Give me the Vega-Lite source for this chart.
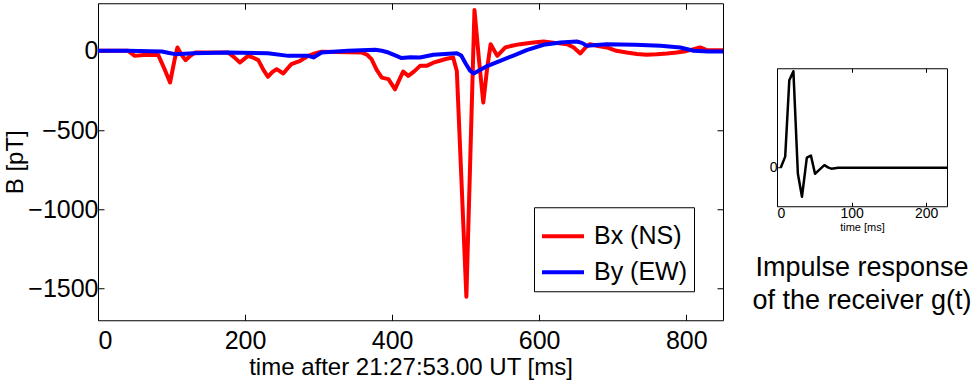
{
  "$schema": "https://vega.github.io/schema/vega-lite/v6.json",
  "padding": {"left": 3, "top": 2, "right": 0, "bottom": 0},
  "background": "white",
  "spacing": 25,
  "center": true,
  "resolve": {"legend": {"color": "independent"}},
  "config": {
    "view": {"stroke": "black", "strokeWidth": 1},
    "font": "Liberation Sans",
    "axis": {
      "grid": false,
      "domain": false,
      "tickColor": "black",
      "labelColor": "black",
      "titleColor": "black",
      "titleFontWeight": "normal",
      "labelFont": "Liberation Sans",
      "titleFont": "Liberation Sans"
    }
  },
  "datasets": {
    "b": [
      {"t": 0, "v": 0, "series": "Bx (NS)"},
      {"t": 20, "v": 0, "series": "Bx (NS)"},
      {"t": 41, "v": 0, "series": "Bx (NS)"},
      {"t": 50, "v": -32, "series": "Bx (NS)"},
      {"t": 65, "v": -25, "series": "Bx (NS)"},
      {"t": 82, "v": -27, "series": "Bx (NS)"},
      {"t": 90, "v": -110, "series": "Bx (NS)"},
      {"t": 98, "v": -200, "series": "Bx (NS)"},
      {"t": 104, "v": -60, "series": "Bx (NS)"},
      {"t": 108, "v": 21, "series": "Bx (NS)"},
      {"t": 113, "v": -20, "series": "Bx (NS)"},
      {"t": 119, "v": -59, "series": "Bx (NS)"},
      {"t": 126, "v": -30, "series": "Bx (NS)"},
      {"t": 132, "v": -11, "series": "Bx (NS)"},
      {"t": 177, "v": -11, "series": "Bx (NS)"},
      {"t": 185, "v": -40, "series": "Bx (NS)"},
      {"t": 193, "v": -74, "series": "Bx (NS)"},
      {"t": 204, "v": -32, "series": "Bx (NS)"},
      {"t": 212, "v": -45, "series": "Bx (NS)"},
      {"t": 218, "v": -59, "series": "Bx (NS)"},
      {"t": 225, "v": -120, "series": "Bx (NS)"},
      {"t": 231, "v": -164, "series": "Bx (NS)"},
      {"t": 237, "v": -135, "series": "Bx (NS)"},
      {"t": 243, "v": -116, "series": "Bx (NS)"},
      {"t": 252, "v": -143, "series": "Bx (NS)"},
      {"t": 258, "v": -110, "series": "Bx (NS)"},
      {"t": 263, "v": -84, "series": "Bx (NS)"},
      {"t": 275, "v": -63, "series": "Bx (NS)"},
      {"t": 286, "v": -32, "series": "Bx (NS)"},
      {"t": 295, "v": -17, "series": "Bx (NS)"},
      {"t": 304, "v": -6, "series": "Bx (NS)"},
      {"t": 359, "v": -11, "series": "Bx (NS)"},
      {"t": 366, "v": -25, "series": "Bx (NS)"},
      {"t": 372, "v": -53, "series": "Bx (NS)"},
      {"t": 379, "v": -120, "series": "Bx (NS)"},
      {"t": 386, "v": -169, "series": "Bx (NS)"},
      {"t": 395, "v": -179, "series": "Bx (NS)"},
      {"t": 404, "v": -243, "series": "Bx (NS)"},
      {"t": 410, "v": -180, "series": "Bx (NS)"},
      {"t": 415, "v": -131, "series": "Bx (NS)"},
      {"t": 422, "v": -158, "series": "Bx (NS)"},
      {"t": 430, "v": -130, "series": "Bx (NS)"},
      {"t": 438, "v": -95, "series": "Bx (NS)"},
      {"t": 447, "v": -95, "series": "Bx (NS)"},
      {"t": 456, "v": -75, "series": "Bx (NS)"},
      {"t": 465, "v": -63, "series": "Bx (NS)"},
      {"t": 474, "v": -50, "series": "Bx (NS)"},
      {"t": 483, "v": -42, "series": "Bx (NS)"},
      {"t": 488, "v": -127, "series": "Bx (NS)"},
      {"t": 501, "v": -1551, "series": "Bx (NS)"},
      {"t": 512, "v": 258, "series": "Bx (NS)"},
      {"t": 518, "v": -50, "series": "Bx (NS)"},
      {"t": 524, "v": -327, "series": "Bx (NS)"},
      {"t": 529, "v": -120, "series": "Bx (NS)"},
      {"t": 534, "v": 42, "series": "Bx (NS)"},
      {"t": 543, "v": -32, "series": "Bx (NS)"},
      {"t": 554, "v": 21, "series": "Bx (NS)"},
      {"t": 563, "v": 32, "series": "Bx (NS)"},
      {"t": 574, "v": 42, "series": "Bx (NS)"},
      {"t": 592, "v": 53, "series": "Bx (NS)"},
      {"t": 606, "v": 59, "series": "Bx (NS)"},
      {"t": 622, "v": 50, "series": "Bx (NS)"},
      {"t": 638, "v": 42, "series": "Bx (NS)"},
      {"t": 647, "v": 21, "series": "Bx (NS)"},
      {"t": 656, "v": -17, "series": "Bx (NS)"},
      {"t": 663, "v": 21, "series": "Bx (NS)"},
      {"t": 669, "v": 42, "series": "Bx (NS)"},
      {"t": 680, "v": 30, "series": "Bx (NS)"},
      {"t": 692, "v": 21, "series": "Bx (NS)"},
      {"t": 705, "v": 0, "series": "Bx (NS)"},
      {"t": 719, "v": -11, "series": "Bx (NS)"},
      {"t": 733, "v": -20, "series": "Bx (NS)"},
      {"t": 746, "v": -25, "series": "Bx (NS)"},
      {"t": 760, "v": -22, "series": "Bx (NS)"},
      {"t": 774, "v": -17, "series": "Bx (NS)"},
      {"t": 787, "v": -11, "series": "Bx (NS)"},
      {"t": 797, "v": -5, "series": "Bx (NS)"},
      {"t": 805, "v": 4, "series": "Bx (NS)"},
      {"t": 819, "v": 21, "series": "Bx (NS)"},
      {"t": 828, "v": 4, "series": "Bx (NS)"},
      {"t": 840, "v": 4, "series": "Bx (NS)"},
      {"t": 850, "v": 4, "series": "Bx (NS)"},
      {"t": 0, "v": 0, "series": "By (EW)"},
      {"t": 40, "v": 0, "series": "By (EW)"},
      {"t": 87, "v": -4, "series": "By (EW)"},
      {"t": 95, "v": -12, "series": "By (EW)"},
      {"t": 105, "v": -21, "series": "By (EW)"},
      {"t": 130, "v": -15, "series": "By (EW)"},
      {"t": 177, "v": -11, "series": "By (EW)"},
      {"t": 231, "v": -15, "series": "By (EW)"},
      {"t": 259, "v": -32, "series": "By (EW)"},
      {"t": 286, "v": -32, "series": "By (EW)"},
      {"t": 293, "v": -42, "series": "By (EW)"},
      {"t": 304, "v": -11, "series": "By (EW)"},
      {"t": 340, "v": 0, "series": "By (EW)"},
      {"t": 377, "v": 6, "series": "By (EW)"},
      {"t": 386, "v": 0, "series": "By (EW)"},
      {"t": 395, "v": -11, "series": "By (EW)"},
      {"t": 405, "v": -30, "series": "By (EW)"},
      {"t": 413, "v": -46, "series": "By (EW)"},
      {"t": 425, "v": -40, "series": "By (EW)"},
      {"t": 438, "v": -42, "series": "By (EW)"},
      {"t": 456, "v": -25, "series": "By (EW)"},
      {"t": 488, "v": -15, "series": "By (EW)"},
      {"t": 494, "v": -30, "series": "By (EW)"},
      {"t": 500, "v": -80, "series": "By (EW)"},
      {"t": 506, "v": -125, "series": "By (EW)"},
      {"t": 511, "v": -143, "series": "By (EW)"},
      {"t": 520, "v": -120, "series": "By (EW)"},
      {"t": 530, "v": -95, "series": "By (EW)"},
      {"t": 547, "v": -63, "series": "By (EW)"},
      {"t": 565, "v": -30, "series": "By (EW)"},
      {"t": 583, "v": 4, "series": "By (EW)"},
      {"t": 606, "v": 38, "series": "By (EW)"},
      {"t": 629, "v": 53, "series": "By (EW)"},
      {"t": 651, "v": 59, "series": "By (EW)"},
      {"t": 658, "v": 50, "series": "By (EW)"},
      {"t": 665, "v": 32, "series": "By (EW)"},
      {"t": 692, "v": 42, "series": "By (EW)"},
      {"t": 730, "v": 38, "series": "By (EW)"},
      {"t": 765, "v": 32, "series": "By (EW)"},
      {"t": 792, "v": 21, "series": "By (EW)"},
      {"t": 810, "v": 0, "series": "By (EW)"},
      {"t": 830, "v": -4, "series": "By (EW)"},
      {"t": 850, "v": -4, "series": "By (EW)"}
    ],
    "g": [
      {"t": 5, "v": 0},
      {"t": 11, "v": 11},
      {"t": 16.5, "v": 87},
      {"t": 22, "v": 96},
      {"t": 28, "v": -6},
      {"t": 33.5, "v": -29},
      {"t": 40, "v": 10},
      {"t": 45.5, "v": 12},
      {"t": 51, "v": -6},
      {"t": 57, "v": -2},
      {"t": 63.5, "v": 2.5},
      {"t": 69, "v": 0},
      {"t": 73, "v": -1},
      {"t": 82, "v": 0},
      {"t": 120, "v": 0},
      {"t": 228, "v": 0}
    ]
  },
  "hconcat": [
    {
      "width": 625,
      "height": 317,
      "data": {"name": "b"},
      "layer": [
        {
          "mark": {"type": "line", "strokeOpacity": 0},
          "encoding": {
            "x": {"field": "t", "type": "quantitative", "scale": {"domain": [0, 850], "nice": false},
              "axis": {"orient": "top", "labels": false, "title": null, "tickSize": -6, "values": [0, 200, 400, 600, 800]}},
            "y": {"field": "v", "type": "quantitative", "scale": {"domain": [-1700, 300], "nice": false, "zero": false},
              "axis": {"orient": "right", "labels": false, "title": null, "tickSize": -6, "values": [-1500, -1000, -500, 0]}},
            "detail": {"field": "series", "type": "nominal"}
          }
        },
        {
          "mark": {"type": "line", "strokeWidth": 4, "strokeJoin": "round"},
          "encoding": {
            "x": {"field": "t", "type": "quantitative",
              "axis": {"orient": "bottom", "title": "time after 21:27:53.00 UT [ms]", "titleFontSize": 24, "labelFontSize": 25, "tickSize": -6, "labelPadding": 14, "titlePadding": 2, "values": [0, 200, 400, 600, 800], "format": "d"}},
            "y": {"field": "v", "type": "quantitative",
              "axis": {"orient": "left", "title": "B [pT]", "titleFontSize": 24, "labelFontSize": 25, "tickSize": -6, "labelPadding": 6, "titlePadding": 0, "values": [-1500, -1000, -500, 0], "format": "d"}},
            "color": {"field": "series", "type": "nominal",
              "scale": {"domain": ["Bx (NS)", "By (EW)"], "range": ["#ff0000", "#0000ff"]},
              "legend": {"title": null, "orient": "bottom-right", "offset": 29, "symbolType": "stroke", "symbolStrokeWidth": 4, "symbolSize": 1764, "labelFontSize": 25, "labelFont": "Liberation Sans", "labelColor": "black", "strokeColor": "black", "fillColor": "white", "padding": 6, "rowPadding": -6, "labelOffset": 8, "cornerRadius": 0, "labelLimit": 300}}
          }
        }
      ],
      "resolve": {"axis": {"x": "independent", "y": "independent"}}
    },
    {
      "width": 170,
      "height": 138,
      "data": {"name": "g"},
      "title": {"text": ["Impulse response", "of the receiver g(t)"], "orient": "bottom", "anchor": "middle", "fontSize": 27, "fontWeight": "normal", "font": "Liberation Sans", "color": "black", "offset": 23, "lineHeight": 33},
      "layer": [
        {
          "mark": {"type": "line", "strokeOpacity": 0},
          "encoding": {
            "x": {"field": "t", "type": "quantitative", "scale": {"domain": [0, 228], "nice": false},
              "axis": {"orient": "top", "labels": false, "title": null, "tickSize": -4, "values": [0, 100, 200], "minExtent": 22}},
            "y": {"field": "v", "type": "quantitative", "scale": {"domain": [-38.4, 99], "nice": false, "zero": false},
              "axis": {"orient": "right", "labels": false, "title": null, "tickSize": -4, "values": [0]}}
          }
        },
        {
          "mark": {"type": "line", "strokeWidth": 2.5, "color": "black", "strokeJoin": "round"},
          "encoding": {
            "x": {"field": "t", "type": "quantitative",
              "axis": {"orient": "bottom", "title": "time [ms]", "titleFontSize": 11, "labelFontSize": 14, "tickSize": -4, "labelPadding": 4, "titlePadding": 1, "values": [0, 100, 200]}},
            "y": {"field": "v", "type": "quantitative",
              "axis": {"orient": "left", "title": null, "labelFontSize": 14, "tickSize": -4, "labelPadding": 4, "values": [0]}}
          }
        }
      ],
      "resolve": {"axis": {"x": "independent", "y": "independent"}}
    }
  ]
}
